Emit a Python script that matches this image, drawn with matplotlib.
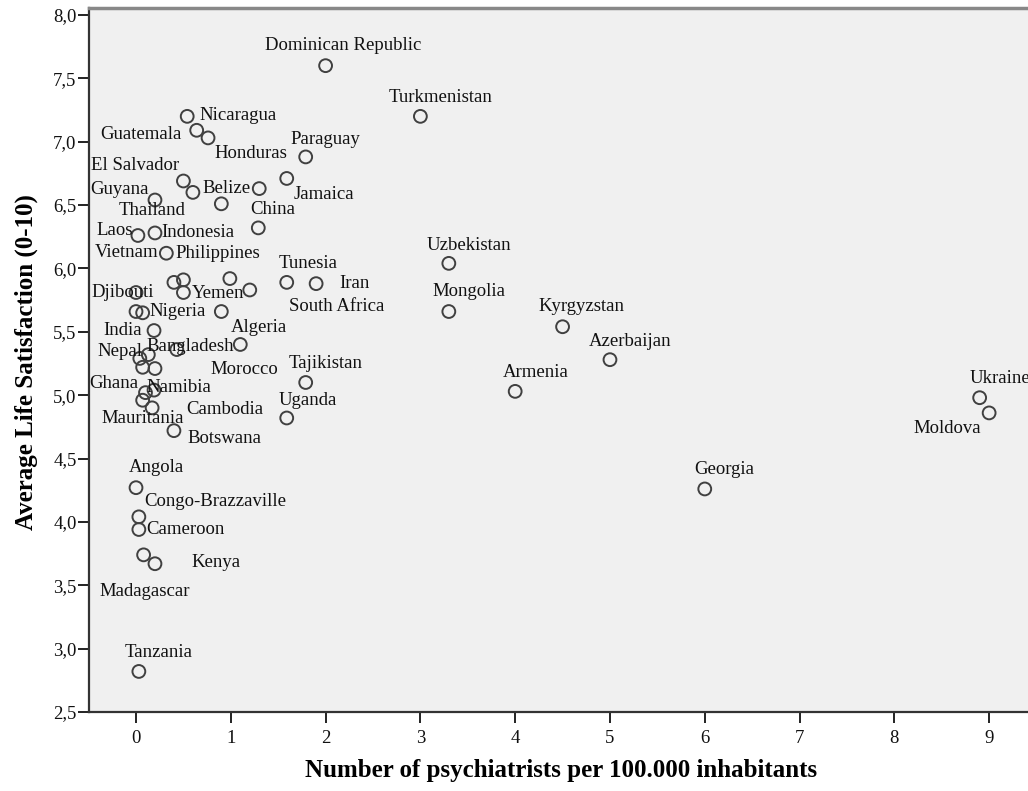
import matplotlib
matplotlib.use("Agg")
import matplotlib.pyplot as plt
from matplotlib.ticker import FuncFormatter, MultipleLocator

countries = [
    "Dominican Republic", "Turkmenistan", "Nicaragua", "Guatemala", "Honduras",
    "Paraguay", "El Salvador", "Jamaica", "", "Belize", "Guyana", "Thailand",
    "China", "Laos", "Indonesia", "Vietnam", "Philippines", "", "", "Tunesia",
    "Iran", "Djibouti", "Yemen", "South Africa", "", "Nigeria", "Algeria",
    "India", "Morocco", "Bangladesh", "Nepal", "", "", "", "Tajikistan",
    "Ghana", "Namibia", "Cambodia", "Mauritania", "Uganda", "Botswana",
    "Angola", "Congo-Brazzaville", "Cameroon", "Madagascar", "Kenya",
    "Tanzania", "Uzbekistan", "Mongolia", "Kyrgyzstan", "Azerbaijan",
    "Armenia", "Ukraine", "Moldova", "Georgia",
]
psychiatrists = [
    2.0, 3.0, 0.54, 0.64, 0.76,
    1.79, 0.50, 1.59, 1.30, 0.60, 0.20, 0.90,
    1.29, 0.02, 0.20, 0.32, 0.40, 0.50, 0.99, 1.59,
    1.90, 0.00, 0.50, 1.20, 0.00, 0.07, 0.90,
    0.19, 1.10, 0.43, 0.04, 0.13, 0.07, 0.20, 1.79,
    0.10, 0.19, 0.07, 0.17, 1.59, 0.40,
    0.00, 0.03, 0.03, 0.08, 0.20,
    0.03, 3.30, 3.30, 4.50, 5.00,
    4.00, 8.90, 9.00, 6.00,
]
satisfaction = [
    7.60, 7.20, 7.20, 7.09, 7.03,
    6.88, 6.69, 6.71, 6.63, 6.60, 6.54, 6.51,
    6.32, 6.26, 6.28, 6.12, 5.89, 5.91, 5.92, 5.89,
    5.88, 5.81, 5.81, 5.83, 5.66, 5.65, 5.66,
    5.51, 5.40, 5.36, 5.29, 5.32, 5.22, 5.21, 5.10,
    5.02, 5.04, 4.96, 4.90, 4.82, 4.72,
    4.27, 4.04, 3.94, 3.74, 3.67,
    2.82, 6.04, 5.66, 5.54, 5.28,
    5.03, 4.98, 4.86, 4.26,
]

# label placement offsets in pixels (dx, dy up) -- layout only
label_offsets = {
    "Dominican Republic": (18, 20), "Turkmenistan": (20, 19), "Nicaragua": (51, 1),
    "Guatemala": (-56, -4), "Honduras": (43, -16), "Paraguay": (20, 17),
    "El Salvador": (-48, 15), "Jamaica": (37, -16), "Belize": (34, 4),
    "Guyana": (-35, 11), "Thailand": (-69, -7), "China": (14, 18),
    "Laos": (-23, 5), "Indonesia": (43, 0), "Vietnam": (-40, 1),
    "Philippines": (44, 29), "Tunesia": (21, 19), "Iran": (38, 0),
    "Djibouti": (-13, 0), "Yemen": (35, -1), "South Africa": (87, -17),
    "Nigeria": (35, 1), "Algeria": (38, -16), "India": (-31, 0),
    "Morocco": (4, -25), "Bangladesh": (13, 3), "Nepal": (-20, 7),
    "Tajikistan": (20, 19), "Ghana": (-32, 9), "Namibia": (25, 3),
    "Cambodia": (82, -9), "Mauritania": (-9, -11), "Uganda": (21, 17),
    "Botswana": (51, -8), "Angola": (20, 20), "Congo-Brazzaville": (76, 15),
    "Cameroon": (47, 0), "Kenya": (61, 1), "Madagascar": (1, -37),
    "Tanzania": (20, 19), "Uzbekistan": (20, 18), "Mongolia": (20, 20),
    "Kyrgyzstan": (19, 20), "Azerbaijan": (20, 18), "Armenia": (21, 19),
    "Ukraine": (20, 19), "Moldova": (-42, -16), "Georgia": (19, 19),
}

serif = ["Liberation Serif", "DejaVu Serif"]
plt.rcParams["font.family"] = serif

fig = plt.figure(figsize=(10.28, 7.91), dpi=100)
fig.patch.set_facecolor("white")
ax = fig.add_axes([89 / 1028, 1 - 712 / 791, 1 - 89 / 1028, (712 - 8) / 791])
ax.set_facecolor("#f0f0f0")

ax.scatter(psychiatrists, satisfaction, s=85, facecolors="none",
           edgecolors="#404040", linewidths=1.4, zorder=3)

for name, xv, yv in zip(countries, psychiatrists, satisfaction):
    if not name:
        continue
    dx, dy = label_offsets.get(name, (20, 19))
    ax.annotate(name, (xv, yv), xytext=(dx, dy), textcoords="offset pixels",
                ha="center", va="center", fontsize=13.5, color="#111111",
                zorder=4, annotation_clip=False)

ax.set_xlim(-0.496, 9.41)
ax.set_ylim(2.5, 8.055)
ax.xaxis.set_major_locator(MultipleLocator(1))
ax.yaxis.set_major_locator(MultipleLocator(0.5))
ax.yaxis.set_major_formatter(FuncFormatter(lambda v, p: f"{v:.1f}".replace(".", ",")))
ax.xaxis.set_major_formatter(FuncFormatter(lambda v, p: f"{int(round(v))}"))

ax.tick_params(axis="both", direction="out", length=8, width=1.4, color="#222222",
               labelsize=13.5, labelcolor="#111111")
ax.tick_params(axis="x", pad=5)
ax.tick_params(axis="y", pad=1)

for side in ("left", "bottom"):
    ax.spines[side].set_linewidth(1.6)
    ax.spines[side].set_color("#333333")
ax.spines["top"].set_linewidth(2.5)
ax.spines["top"].set_color("#888888")
ax.spines["right"].set_visible(False)

ax.set_xlabel("Number of psychiatrists per 100.000 inhabitants", fontsize=18,
              fontweight="bold")
ax.set_ylabel("Average Life Satisfaction (0-10)", fontsize=18,
              fontweight="bold")
ax.xaxis.set_label_coords((561 - 89) / 939, (712 - 771) / 704)
ax.yaxis.set_label_coords((26 - 89) / 939, (712 - 362) / 704)
ax.xaxis.label.set_va("center")
ax.yaxis.label.set_va("center")

fig.savefig("out.png", dpi=100)
